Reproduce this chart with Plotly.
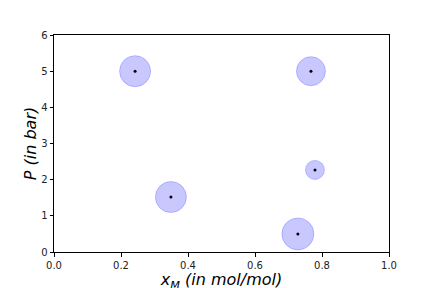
import plotly.graph_objects as go

x_M = [0.242, 0.767, 0.349, 0.779, 0.728]
P_bar = [5.0, 5.0, 1.52, 2.27, 0.5]
bubble_size = [31, 29, 31, 19, 32]

fig = go.Figure()
fig.add_trace(go.Scatter(
    x=x_M, y=P_bar, mode="markers",
    marker=dict(size=bubble_size, color="rgba(0,0,255,0.3)",
                line=dict(color="rgba(0,0,255,0.3)", width=1)),
    showlegend=False, hoverinfo="skip"))
fig.add_trace(go.Scatter(
    x=x_M, y=P_bar, mode="markers",
    marker=dict(size=3, color="black"),
    showlegend=False))

axis_common = dict(showline=True, linecolor="black", linewidth=1, mirror=True,
                   ticks="outside", ticklen=3.5, tickcolor="black",
                   showgrid=False, zeroline=False, automargin=False,
                   tickfont=dict(family="DejaVu Sans", size=10, color="#222"))
fig.update_xaxes(range=[0, 1], dtick=0.2, tickformat=".1f",
                 title=dict(text="<i>x<sub>M</sub> (in mol/mol)</i>",
                            font=dict(family="DejaVu Sans", size=16, color="black"),
                            standoff=2),
                 **axis_common)
fig.update_yaxes(range=[0, 6], dtick=1,
                 title=dict(text="<i>P (in bar)</i>",
                            font=dict(family="DejaVu Sans", size=16, color="black"),
                            standoff=0),
                 **axis_common)
# page body has an 8px default margin, so the figure is offset by (8, 8)
fig.update_layout(width=432, height=288,
                  margin=dict(l=46, r=51, t=27, b=44, autoexpand=False),
                  plot_bgcolor="white", paper_bgcolor="white")
fig.write_html("out.html")
